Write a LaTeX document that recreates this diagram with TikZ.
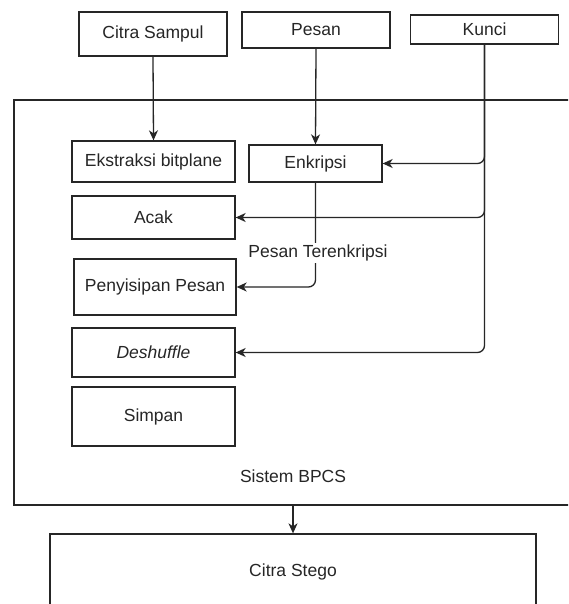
\documentclass[tikz,border=0pt]{standalone}
\usepackage{fontspec}
\setmainfont{Liberation Sans}
\usetikzlibrary{arrows.meta}
\begin{document}
\begin{tikzpicture}[x=1pt,y=-1pt,
  font=\fontsize{17.5}{20}\selectfont,
  box/.style={draw=black!85, line width=1.3pt, inner sep=0pt, fill=white, text=black!85},
  arr/.style={draw=black!85, line width=1.3pt, -{Stealth[length=10pt,width=9pt,inset=3pt]}},
  conn/.style={arr, rounded corners=7pt}]
\useasboundingbox (0,0) rectangle (568,604);
\clip (0,0) rectangle (568,604);
% outer system box
\node[box, minimum width=561pt, minimum height=405pt] (sys) at (294.5,302.5) {};
\node[text=black!85] (sysl) at (293,476) {Sistem BPCS};
% inputs
\node[box, minimum width=148pt, minimum height=44pt] (cs) at (153,34) {Citra Sampul};
\node[box, minimum width=148pt, minimum height=36pt] (ps) at (316,30) {Pesan};
\node[box, minimum width=148pt, minimum height=29pt] (ku) at (484.5,29.5) {Kunci};
% steps
\node[box, minimum width=163pt, minimum height=41pt] (ek) at (153.5,161.5) {Ekstraksi bitplane};
\node[box, minimum width=133pt, minimum height=37pt] (en) at (315.5,163.5) {Enkripsi};
\node[box, minimum width=163pt, minimum height=43pt] (ac) at (153.5,217.5) {Acak};
\node[box, minimum width=162pt, minimum height=56pt] (pp) at (155,287) {Penyisipan Pesan};
\node[box, minimum width=163pt, minimum height=49pt] (de) at (153.5,352.5) {\itshape Deshuffle};
\node[box, minimum width=163pt, minimum height=59pt] (si) at (153.5,416.5) {Simpan};
% output
\node[box, minimum width=486pt, minimum height=76pt] (st) at (293,572) {Citra Stego};
% connectors
\draw[arr] (cs.south) -- (ek.north);
\draw[arr] (ps.south) -- (en.north);
\draw[conn] (ku.south) |- (en.east);
\draw[conn] (ku.south) |- (ac.east);
\draw[conn] (ku.south) |- (de.east);
\draw[conn] (en.south) |- (pp.east);
\node[fill=white, text=black!85, inner sep=2pt] (lbl) at (318,253) {Pesan Terenkripsi};
\coordinate (sysb) at (293,505);
\draw[arr] (sysb) -- (st.north -| sysb);
\end{tikzpicture}
\end{document}
